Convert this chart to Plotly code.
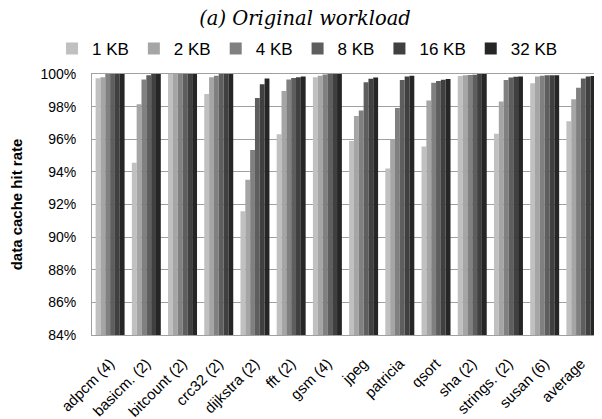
import plotly.graph_objects as go

categories = ["adpcm (4)", "basicm. (2)", "bitcount (2)", "crc32 (2)", "dijkstra (2)", "fft (2)",
              "gsm (4)", "jpeg", "patricia", "qsort", "sha (2)", "strings. (2)", "susan (6)", "average"]
series_names = ["1 KB", "2 KB", "4 KB", "8 KB", "16 KB", "32 KB"]
kb1 = [99.74, 94.56, 100.0, 98.77, 91.58, 96.30, 99.80, 95.90, 94.21, 95.56, 99.88, 96.34, 99.43, 97.10]
kb2 = [99.80, 98.14, 100.0, 99.80, 93.52, 98.96, 99.90, 97.42, 95.99, 98.37, 99.92, 98.32, 99.85, 98.45]
kb4 = [100.0, 99.67, 100.0, 99.90, 95.34, 99.67, 99.97, 97.77, 97.91, 99.47, 99.94, 99.63, 99.90, 99.16]
kb8 = [100.0, 99.92, 100.0, 100.0, 98.53, 99.75, 100.0, 99.49, 99.63, 99.57, 99.96, 99.78, 99.92, 99.73]
kb16 = [100.0, 100.0, 100.0, 100.0, 99.37, 99.80, 100.0, 99.71, 99.85, 99.65, 100.0, 99.83, 99.92, 99.85]
kb32 = [100.0, 100.0, 100.0, 100.0, 99.73, 99.85, 100.0, 99.78, 99.90, 99.70, 100.0, 99.85, 99.92, 99.88]
colors = ["#c0c0c0", "#a5a5a5", "#808080", "#5e5e5e", "#404040", "#262626"]
tick_vals = [84, 86, 88, 90, 92, 94, 96, 98, 100]
tick_text = [f"{v}%" for v in tick_vals]

fig = go.Figure()
for name, vals, col in zip(series_names, [kb1, kb2, kb4, kb8, kb16, kb32], colors):
    fig.add_trace(go.Bar(x=categories, y=vals, name=name,
                         marker=dict(color=col, line=dict(width=0))))

# The page body has an 8px margin, so the figure is drawn 8px smaller and offset.
fig.update_layout(
    width=594, height=411,
    paper_bgcolor="white", plot_bgcolor="white",
    margin=dict(l=84, r=3, t=66, b=84, autoexpand=False),
    barmode="group", bargap=0.2, bargroupgap=0,
    title=dict(text="<i>(a) Original workload</i>", x=0.5, xanchor="center", y=0.976, yanchor="middle",
               font=dict(family="DejaVu Serif", size=19.5, color="black"), automargin=False),
    legend=dict(orientation="h", x=-0.0789, xanchor="left", y=1.096, yanchor="middle",
                font=dict(family="Liberation Sans", size=17, color="black"),
                itemwidth=30, tracegroupgap=0, bgcolor="rgba(0,0,0,0)"),
    font=dict(family="Liberation Sans", color="black"),
)

fig.update_yaxes(range=[84, 100], tickvals=tick_vals, ticktext=tick_text, automargin=False,
                 showgrid=True, gridcolor="#a0a0a0", gridwidth=1,
                 showline=True, linecolor="#a0a0a0", mirror=True, linewidth=1,
                 ticks="", tickfont=dict(size=14), ticklabelstandoff=12,
                 title=dict(text="<b>data cache hit rate</b>", font=dict(size=15), standoff=14),
                 zeroline=False)
fig.update_xaxes(tickangle=-45, tickfont=dict(size=15), showline=True, linecolor="#a0a0a0",
                 mirror=True, linewidth=1, ticks="", showgrid=False, automargin=False,
                 ticklabelstandoff=13)

fig.write_html("out.html")
